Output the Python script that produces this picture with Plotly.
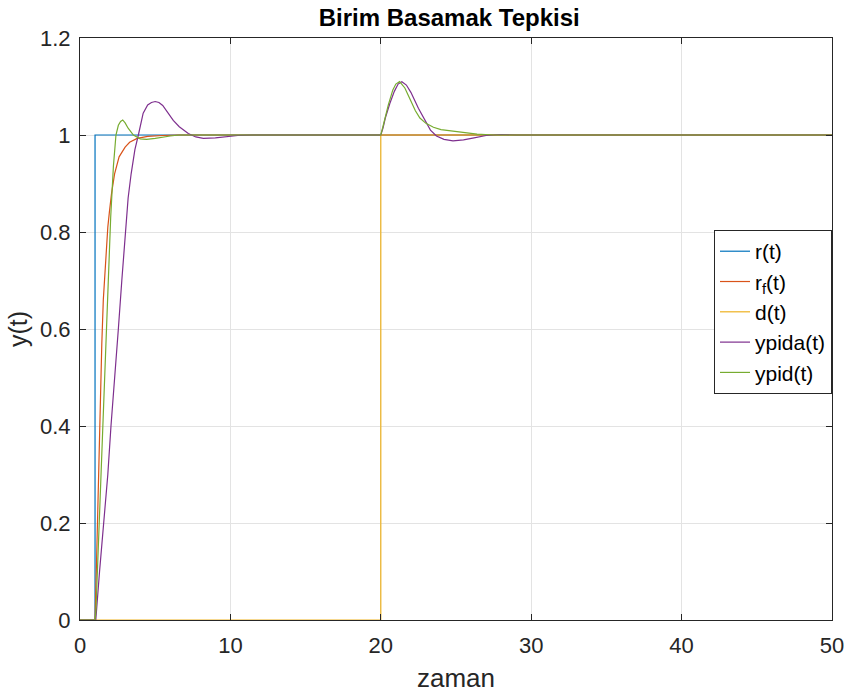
import plotly.graph_objects as go

# ---- data ----
r_t = [0, 1, 1, 50]
r_y = [0, 0, 1, 1]

d_t = [0, 20, 20, 50]
d_y = [0, 0, 1, 1]

rf_t = [0, 1.0, 1.1, 1.22, 1.33, 1.45, 1.55, 1.7, 1.85, 1.95, 2.1, 2.3, 2.6, 3.0, 3.3, 3.8, 4.5, 5.5, 6.5, 50]
rf_y = [0, 0, 0.12, 0.30, 0.45, 0.57, 0.66, 0.75, 0.81, 0.84, 0.88, 0.92, 0.955, 0.975, 0.985, 0.993, 0.997, 0.999, 1.0, 1.0]

ypida_t = [0, 1.05, 1.3, 1.6, 1.85, 2.06, 2.28, 2.55, 2.78, 3.0, 3.2, 3.4, 3.65, 3.88,
           4.2, 4.5, 4.75, 5.0, 5.25, 5.5, 5.8, 6.2, 6.6, 7.2, 7.7, 8.2, 9.0, 9.8, 10.5, 11.5,
           20.0, 20.15, 20.3, 20.6, 20.9, 21.15, 21.4, 21.7, 22.0, 22.5, 23.0, 23.3, 23.7,
           24.2, 24.8, 25.5, 26.2, 27.0, 28.0, 29.0, 50]
ypida_y = [0, 0, 0.10, 0.20, 0.30, 0.40, 0.50, 0.60, 0.70, 0.80, 0.87, 0.92, 0.97, 1.0,
           1.045, 1.062, 1.067, 1.069, 1.067, 1.061, 1.048, 1.03, 1.017, 1.003, 0.996, 0.993, 0.994, 0.997, 0.999, 1.0,
           1.0, 1.015, 1.035, 1.065, 1.09, 1.105, 1.11, 1.103, 1.088, 1.055, 1.025, 1.01, 0.998,
           0.991, 0.988, 0.99, 0.994, 0.999, 1.001, 1.0, 1.0]

ypid_t = [0, 1.0, 1.06, 1.33, 1.55, 1.82, 2.04, 2.22, 2.39, 2.55, 2.7, 2.84, 3.0, 3.2, 3.55, 4.0, 4.43,
          5.0, 5.5, 6.0, 6.6, 20.0, 20.15, 20.3, 20.5, 20.8, 21.0, 21.25, 21.6, 22.0, 22.3,
          22.6, 23.0, 23.5, 24.0, 24.8, 25.5, 26.4, 27.5, 50]
ypid_y = [0, 0, 0.02, 0.25, 0.45, 0.66, 0.83, 0.935, 1.0, 1.02, 1.028, 1.031, 1.025, 1.014, 1.0, 0.992, 0.991,
          0.993, 0.996, 0.998, 1.0, 1.0, 1.018, 1.038, 1.062, 1.093, 1.105, 1.11, 1.097, 1.07, 1.05,
          1.035, 1.024, 1.016, 1.011, 1.008, 1.005, 1.002, 1.0, 1.0]

x_ticks = [0, 10, 20, 30, 40, 50]
y_ticks = [0, 0.2, 0.4, 0.6, 0.8, 1.0, 1.2]
y_tick_text = ["0", "0.2", "0.4", "0.6", "0.8", "1", "1.2"]

FONT = "Arial, Liberation Sans, sans-serif"
AX = "#262626"

fig = go.Figure()
fig.add_trace(go.Scatter(x=r_t, y=r_y, mode="lines", name="r(t)",
                         line=dict(color="#0072BD", width=1.2)))
fig.add_trace(go.Scatter(x=rf_t, y=rf_y, mode="lines", name="r<sub>f</sub>(t)",
                         line=dict(color="#D95319", width=1.2)))
fig.add_trace(go.Scatter(x=d_t, y=d_y, mode="lines", name="d(t)",
                         line=dict(color="#EDB120", width=1.2)))
fig.add_trace(go.Scatter(x=ypida_t, y=ypida_y, mode="lines", name="ypida(t)",
                         line=dict(color="#7E2F8E", width=1.2)))
fig.add_trace(go.Scatter(x=ypid_t, y=ypid_y, mode="lines", name="ypid(t)",
                         line=dict(color="#77AC30", width=1.2)))

axis_common = dict(showline=True, mirror="ticks", linecolor=AX, linewidth=1,
                   ticks="inside", ticklen=6, tickcolor=AX, showgrid=True,
                   gridcolor="#e3e3e3", gridwidth=1, zeroline=False, automargin=False,
                   tickfont=dict(family=FONT, size=22, color=AX))

fig.update_layout(
    width=848, height=696,
    paper_bgcolor="white", plot_bgcolor="white",
    margin=dict(l=80, r=16, t=38, b=76, autoexpand=False),
    title=dict(text="<b>Birim Basamak Tepkisi</b>", xref="paper", x=0.491, xanchor="center",
               yref="container", y=1 - 18 / 696, yanchor="middle", automargin=False,
               font=dict(family=FONT, size=24, color="black")),
    xaxis=dict(range=[0, 50], tickvals=x_ticks, ticklabelstandoff=6,
               title=dict(text="zaman", font=dict(family=FONT, size=26, color=AX), standoff=11),
               **axis_common),
    yaxis=dict(range=[0, 1.2], tickvals=y_ticks, ticktext=y_tick_text, ticklabelstandoff=4,
               title=dict(text="y(t)", font=dict(family=FONT, size=25, color=AX), standoff=5),
               **axis_common),
    legend=dict(x=1.0, xanchor="right", y=0.67, yanchor="top",
                bgcolor="white", bordercolor=AX, borderwidth=1,
                font=dict(family=FONT, size=21, color="black"),
                itemwidth=30, tracegroupgap=0),
    showlegend=True,
)

fig.write_html(
    "out.html",
    config={"displayModeBar": False},
    post_script=("document.body.style.margin='0';"
                 "document.body.style.overflow='hidden';"
                 "document.documentElement.style.overflow='hidden';"),
)
